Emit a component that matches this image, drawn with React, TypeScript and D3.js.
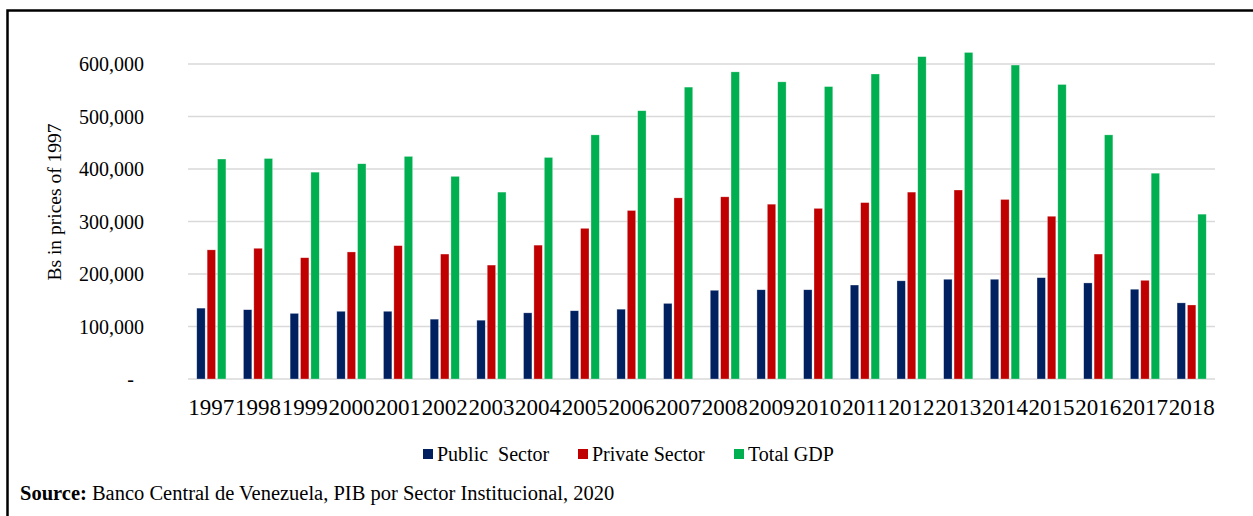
import React from "react";
import * as d3 from "d3";

const years = [
    "1997", "1998", "1999", "2000", "2001", "2002", "2003", "2004", "2005", "2006", "2007",
    "2008", "2009", "2010", "2011", "2012", "2013", "2014", "2015", "2016", "2017", "2018",
];
const publicSector = [
    135000, 132000, 125000, 129000, 129000, 114000, 112000, 126000, 130000, 133000, 144000,
    169000, 170000, 170000, 179000, 187000, 190000, 190000, 193000, 183000, 171000, 145000,
];
const privateSector = [
    246000, 249000, 231000, 242000, 254000, 238000, 217000, 255000, 287000, 321000, 345000,
    347000, 333000, 325000, 336000, 356000, 360000, 342000, 310000, 238000, 188000, 141000,
];
const totalGDP = [
    419000, 420000, 394000, 410000, 424000, 386000, 356000, 422000, 465000, 511000, 556000,
    585000, 566000, 557000, 581000, 614000, 622000, 598000, 561000, 465000, 392000, 314000,
];
const seriesNames = ["Public  Sector", "Private Sector", "Total GDP"];
const seriesColors = ["#002060", "#C00000", "#00B050"];
const yTicks = [0, 100000, 200000, 300000, 400000, 500000, 600000];

const W = 1253;
const H = 516;
const plot = { left: 188, right: 1215, top: 64, bottom: 379 };
const serif = "'Liberation Serif', 'Times New Roman', serif";

const App = () => {
    const seriesValues = [publicSector, privateSector, totalGDP];

    const x0 = d3.scaleBand()
        .domain(years)
        .range([plot.left, plot.right])
        .paddingInner(0.375)
        .paddingOuter(0.1875);
    const x1 = d3.scaleBand()
        .domain(seriesNames)
        .range([0, x0.bandwidth()])
        .paddingInner(0.19);
    const y = d3.scaleLinear().domain([0, 600000]).range([plot.bottom, plot.top]);
    const fmt = d3.format(",");

    // legend positions
    const legendX = [423, 578, 734];
    const legendY = 454;

    return (
        <svg width={W} height={H} style={{ position: "absolute", left: 0, top: 0, display: "block" }}
            fontFamily={serif}>
            <rect x={0} y={0} width={W} height={H} fill="#fff" />
            {/* frame */}
            <rect x={7.5} y={10.5} width={W + 20} height={H + 20} fill="none" stroke="#000" strokeWidth={2.5} />

            {/* gridlines */}
            {yTicks.map((t) => (
                <line key={t} x1={plot.left} x2={plot.right} y1={y(t)} y2={y(t)}
                    stroke="#D9D9D9" strokeWidth={1.5} />
            ))}

            {/* y tick labels */}
            {yTicks.map((t) => (
                <text key={"l" + t} x={t === 0 ? 134 : 144} y={y(t)} dy="0.35em"
                    textAnchor="end" fontSize={20} fill="#000">
                    {t === 0 ? "-" : fmt(t)}
                </text>
            ))}

            {/* y axis title */}
            <text transform={`translate(61, 202) rotate(-90)`} textAnchor="middle"
                fontSize={19.5} fill="#000">
                Bs in prices of 1997
            </text>

            {/* bars */}
            {seriesValues.map((vals, si) => (
                <g key={si}>
                    {vals.map((v, i) => (
                        <rect key={i}
                            x={x0(years[i])! + x1(seriesNames[si])!}
                            y={y(v)}
                            width={x1.bandwidth()}
                            height={y(0) - y(v)}
                            fill={seriesColors[si]}
                            stroke="#fff" strokeOpacity={0.5} strokeWidth={0.6}
                        />
                    ))}
                </g>
            ))}

            {/* x labels */}
            {years.map((yr) => (
                <text key={yr} x={x0(yr)! + x0.bandwidth() / 2} y={415} textAnchor="middle"
                    fontSize={23} fill="#000">
                    {yr}
                </text>
            ))}

            {/* legend */}
            {seriesNames.map((name, i) => (
                <g key={name}>
                    <rect x={legendX[i]} y={legendY - 5} width={10} height={10} fill={seriesColors[i]} />
                    <text x={legendX[i] + 14} y={legendY} dy="0.35em" fontSize={20} fill="#000"
                        style={{ whiteSpace: "pre" }}>
                        {name}
                    </text>
                </g>
            ))}

            {/* source */}
            <text x={20} y={500} fontSize={20.5} fill="#000">
                <tspan fontWeight="bold">Source:</tspan>
                <tspan> Banco Central de Venezuela, PIB por Sector Institucional, 2020</tspan>
            </text>
        </svg>
    );
};

export default App;
